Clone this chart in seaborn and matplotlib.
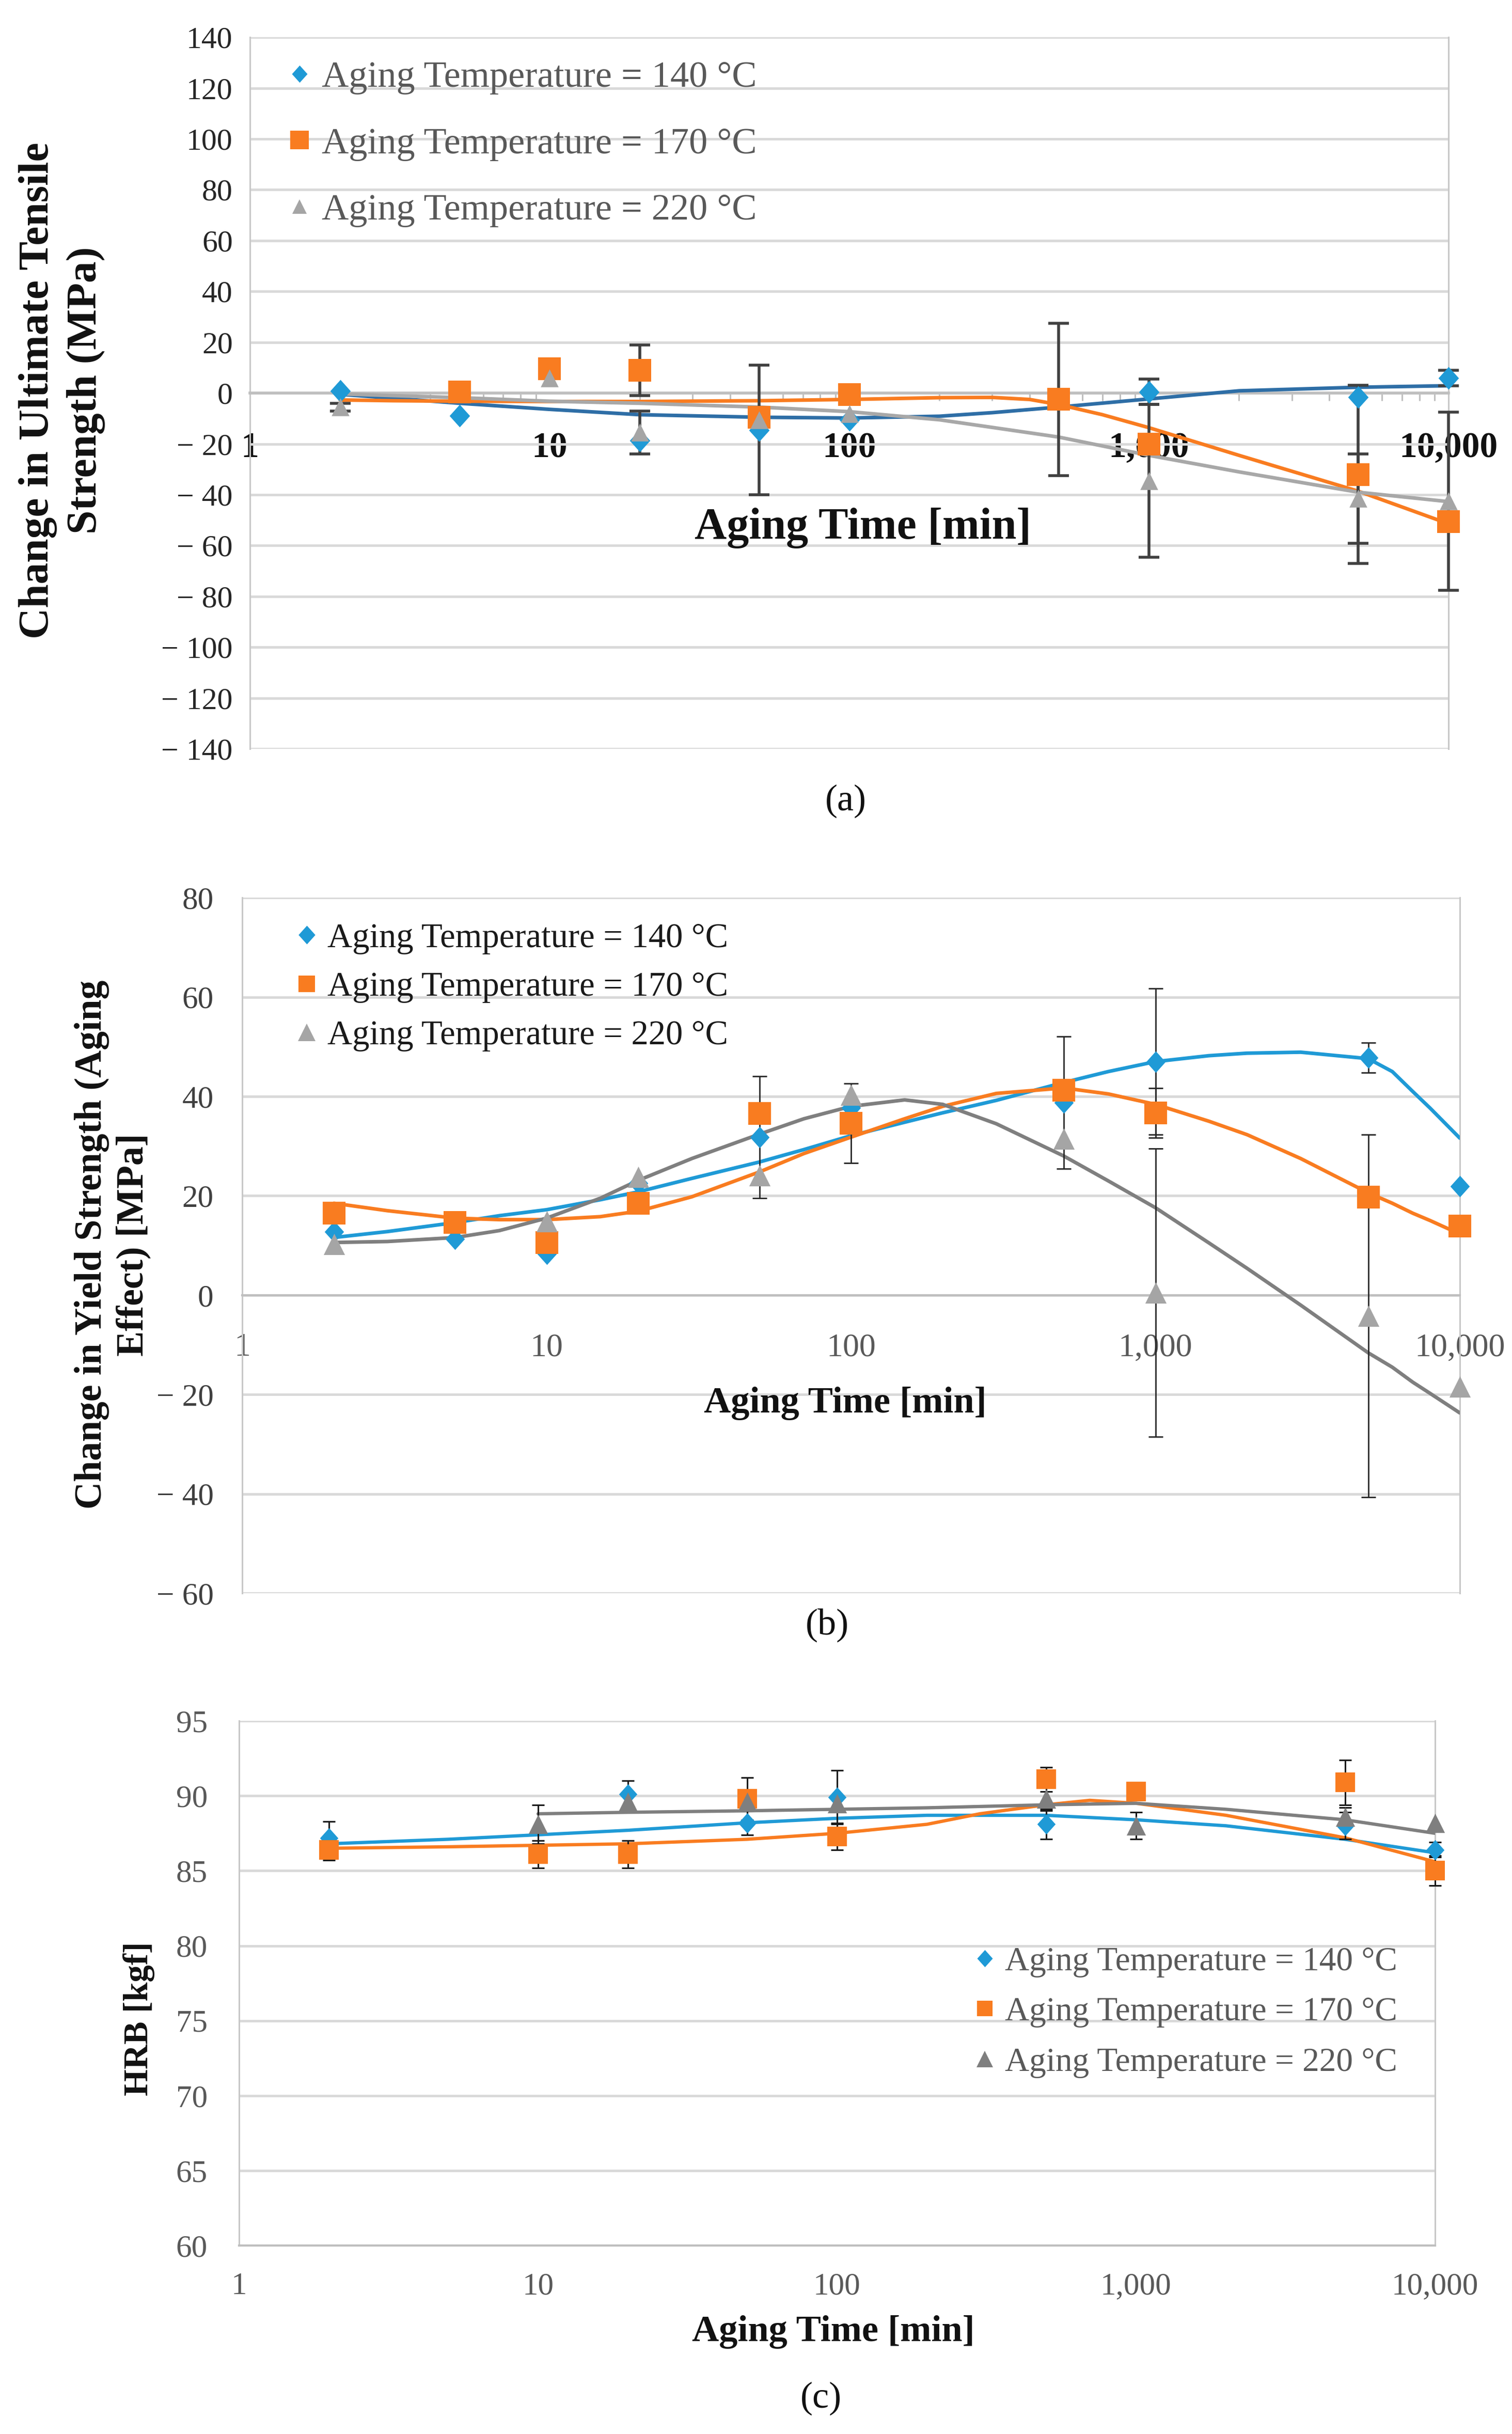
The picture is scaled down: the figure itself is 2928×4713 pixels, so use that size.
import numpy as np
import matplotlib
matplotlib.use("Agg")
import matplotlib.pyplot as plt
from matplotlib.lines import Line2D
from matplotlib.ticker import FixedLocator, FuncFormatter, LogLocator, NullFormatter
import seaborn as sns

nan = np.nan

# ---------------- data ----------------
LABELS = ["Aging Temperature = 140 °C", "Aging Temperature = 170 °C", "Aging Temperature = 220 °C"]

# (a) change in ultimate tensile strength
time_a = [2, 5, 10, 20, 50, 100, 500, 1000, 5000, 10000]
uts_140 = [0.8, -9, nan, -18.6, -14.5, -10.5, nan, 0.5, -1.5, 5.9]
uts_170 = [nan, 0.5, 9.5, 9, -9.5, -0.5, -2.5, -20, -32, -50.5]
uts_220 = [-5.5, nan, 6, -15.5, -10.5, -8, nan, -34.5, -41.5, -42.5]
uts_err_140 = [0, 0, 0, 0, 25.5, 0, 0, 5, 0, 3]
uts_err_170 = [0, 0, 0, 10, 0, 0, 30, 0, 35, 0]
uts_err_220 = [1.5, 0, 0, 8.5, 0, 0, 0, 30, 17.5, 35]

fit_a_x_140 = [2, 3, 5, 10, 20, 50, 100, 200, 300, 500, 1000, 2000, 5000, 10000]
fit_a_y_140 = [-0.5, -2, -4, -6.4, -8.5, -9.5, -9.8, -9.1, -7.7, -5.5, -2.3, 0.9, 2.3, 2.9]
fit_a_x_170 = [2, 3, 5, 10, 20, 50, 100, 200, 300, 400, 500, 700, 1000, 2000, 5000, 10000]
fit_a_y_170 = [-2.7, -3, -3.2, -3.3, -3.3, -3, -2.5, -1.8, -1.7, -2.5, -4.5, -8.5, -13.6, -24.5, -38.6, -51.4]
fit_a_x_220 = [2, 3, 5, 10, 20, 50, 100, 200, 300, 500, 1000, 2000, 5000, 10000]
fit_a_y_220 = [-0.3, -1, -1.8, -3.2, -4, -5.5, -7.3, -10.5, -13.5, -17.3, -24.5, -31, -39, -42.7]

# (b) change in yield strength
time_b = [2, 5, 10, 20, 50, 100, 500, 1000, 5000, 10000]
ys_140 = [12.8, 11.3, 8.3, 22.5, 31.8, 37.7, 38.8, 47, 47.8, 21.9]
ys_170 = [16.5, 14.6, 10.6, 18.5, 36.6, 34.6, 41.2, 36.7, 19.7, 13.9]
ys_220 = [10.3, nan, 14.8, 23.8, 24.1, 40.3, 31.5, 0.5, -4.2, -18.4]
ys_err_140 = [0, 0, 0, 0, 12.3, 0, 13.3, 14.7, 3, 0]
ys_err_170 = [0, 0, 0, 0, 0, 8, 0, 5, 0, 0]
ys_err_220 = [0, 0, 0, 0, 0, 0, 0, 29, 36.5, 0]

fit_b_x = [2, 3, 5, 7, 10, 15, 20, 30, 50, 70, 100, 150, 200, 300, 500, 700, 1000, 1500, 2000, 3000, 5000, 6000, 7000, 8000, 10000]
fit_b_y_140 = [11.6, 12.8, 14.6, 16, 17.2, 19.2, 20.8, 23.5, 26.8, 29.3, 32.1, 34.8, 36.7, 39.2, 42.8, 45, 47, 48.2, 48.7, 48.9, 47.6, 45, 41, 37.6, 31.6]
fit_b_y_170 = [18.5, 17, 15.5, 15.2, 15.2, 15.8, 16.9, 19.8, 24.8, 28.5, 31.8, 35.5, 38, 40.6, 41.7, 40.5, 38.4, 35, 32.3, 27.5, 20.6, 18.5, 16.5, 15, 12.3]
fit_b_y_220 = [10.6, 10.8, 11.6, 13, 15.5, 19.5, 23.1, 27.5, 32.4, 35.5, 38, 39.3, 38.4, 34.5, 28, 23, 17.6, 10.5, 5.4, -2, -11.6, -14.5, -17.5, -19.8, -23.7]

# (c) hardness
time_c = [2, 10, 20, 50, 100, 500, 1000, 5000, 10000]
hrb_140 = [87.2, nan, 90.1, 88.2, 89.9, 88.1, nan, 88.0, 86.4]
hrb_170 = [86.4, 86.1, 86.1, 89.8, 87.3, 91.1, 90.3, 90.9, 85.0]
hrb_220 = [nan, 88.1, 89.6, 89.6, 89.5, 89.8, 88.0, 88.6, 88.2]
hrb_err_140 = [1.1, 0, 0.9, 0.8, 1.8, 1.0, 0, 0.9, 0.5]
hrb_err_170 = [0.7, 0.9, 0.9, 1.4, 0.9, 0.8, 0.6, 1.5, 1.0]
hrb_err_220 = [0, 1.3, 0.5, 0.6, 0.5, 0.8, 0.9, 0.6, 0]

fit_c_x_140 = [2, 5, 10, 20, 50, 100, 200, 500, 1000, 2000, 5000, 10000]
fit_c_y_140 = [86.8, 87.1, 87.4, 87.7, 88.2, 88.5, 88.7, 88.7, 88.4, 88.0, 87.1, 86.2]
fit_c_x_170 = [2, 5, 10, 20, 50, 100, 200, 300, 500, 700, 1000, 2000, 5000, 10000]
fit_c_y_170 = [86.5, 86.6, 86.7, 86.8, 87.1, 87.5, 88.1, 88.8, 89.4, 89.7, 89.5, 88.7, 87.2, 85.6]
fit_c_x_220 = [10, 20, 50, 100, 200, 500, 1000, 2000, 5000, 10000]
fit_c_y_220 = [88.8, 88.9, 89.0, 89.1, 89.2, 89.4, 89.5, 89.1, 88.4, 87.5]

X_TICKS = [1, 10, 100, 1000, 10000]

BLUE = "#1f9ad6"
ORANGE = "#f97c20"
GRAY = "#a5a5a5"
DIAMOND = [(-0.9, 0), (0, 1), (0.9, 0), (0, -1)]
MARKERS = [DIAMOND, "s", "^"]

sns.set_theme(style="white")
plt.rcParams["font.family"] = ["Liberation Serif", "DejaVu Serif"]
plt.rcParams["axes.unicode_minus"] = False


def fmt_y(v, pos):
    return f"\u2212 {abs(v):g}" if v < 0 else f"{v:g}"


def fmt_x(v, pos):
    return f"{int(round(v)):,}"


def draw_panel(ax, time, vals, errs, fits, line_colors, mark_colors, sizes, err_color, err_lw, capsize, line_lw):
    ax.set_xscale("log")
    for (fx, fy), c in zip(fits, line_colors):
        sns.lineplot(x=fx, y=fy, ax=ax, color=c, lw=line_lw, sort=False, estimator=None,
                     legend=False, zorder=3)
    t = np.array(time, float)
    for v, e in zip(vals, errs):
        v = np.array(v, float)
        e = np.array(e, float)
        m = e > 0
        ax.errorbar(t[m], v[m], yerr=e[m], fmt="none", ecolor=err_color, elinewidth=err_lw,
                    capsize=capsize, capthick=err_lw, zorder=4, clip_on=False)
    for v, c, mk, s in zip(vals, mark_colors, MARKERS, sizes):
        sns.scatterplot(x=time, y=v, ax=ax, marker=mk, s=s, color=c, linewidth=0,
                        zorder=5, clip_on=False, legend=False)
    ax.set_xlim(1, 10000)
    ax.xaxis.set_major_locator(FixedLocator(X_TICKS))
    ax.xaxis.set_major_formatter(FuncFormatter(fmt_x))
    ax.xaxis.set_minor_formatter(NullFormatter())
    ax.yaxis.set_major_formatter(FuncFormatter(fmt_y))
    ax.set_xlabel("")
    ax.set_ylabel("")
    ax.grid(axis="y", color="#d9d9d9", lw=3.5, zorder=0)
    ax.grid(axis="x", visible=False)
    ax.set_axisbelow(True)
    ax.spines["top"].set_visible(False)
    for side in ("left", "right"):
        ax.spines[side].set_color("#c8c8c8")
        ax.spines[side].set_linewidth(2.2)


def add_legend(ax, anchor, fontsize, spacing, text_color, msizes, colors):
    handles = [Line2D([], [], marker=mk, color=c, linestyle="none", markersize=ms, markeredgewidth=0)
               for mk, c, ms in zip(MARKERS, colors, msizes)]
    leg = ax.legend(handles, LABELS, loc="upper left", bbox_to_anchor=anchor, frameon=False,
                    handlelength=0.6, handletextpad=0.3, labelspacing=spacing, borderpad=0,
                    borderaxespad=0, prop=dict(size=fontsize))
    for txt in leg.get_texts():
        txt.set_color(text_color)


fig = plt.figure(figsize=(29.28, 47.13), dpi=100)

# ---------------- (a) ----------------
ax_a = fig.add_axes([0.1653, 0.6923, 0.7927, 0.2924])
draw_panel(ax_a, time_a, [uts_140, uts_170, uts_220], [uts_err_140, uts_err_170, uts_err_220],
           [(fit_a_x_140, fit_a_y_140), (fit_a_x_170, fit_a_y_170), (fit_a_x_220, fit_a_y_220)],
           ["#2e6ea6", ORANGE, "#a8a8a8"], [BLUE, ORANGE, GRAY], [1000, 1000, 620],
           "#404040", 4, 14.5, 5)
ax_a.set_ylim(-140, 140)
ax_a.yaxis.set_major_locator(FixedLocator(np.arange(-140, 141, 20)))
ax_a.spines["bottom"].set_position(("data", 0))
ax_a.spines["bottom"].set_color("#bfbfbf")
ax_a.spines["bottom"].set_linewidth(4)
ax_a.xaxis.set_minor_locator(LogLocator(base=10, subs=np.arange(2, 10)))
ax_a.tick_params(axis="x", which="both", direction="out", color="#bfbfbf", width=2.2)
ax_a.tick_params(axis="x", which="major", length=11, pad=43, labelsize=50, labelcolor="#111111")
ax_a.tick_params(axis="x", which="minor", length=11, bottom=True)
ax_a.tick_params(axis="y", length=0, pad=24, labelsize=43, labelcolor="#262626")
for lab in ax_a.get_xticklabels():
    lab.set_fontweight("bold")
add_legend(ax_a, (0.032, 0.967), 52, 0.87, "#595959", [24, 26, 20], [BLUE, ORANGE, GRAY])
fig.text(0.5707, 0.783, "Aging Time [min]", ha="center", va="center", fontsize=62,
         fontweight="bold", color="#111111")
fig.text(0.041, 0.8396, "Change in Ultimate Tensile\nStrength (MPa)", rotation=90, ha="center",
         va="center", fontsize=60, fontweight="bold", linespacing=1.3, color="#111111")
fig.text(0.5594, 0.6709, "(a)", ha="center", va="center", fontsize=52, color="#111111")

# ---------------- (b) ----------------
ax_b = fig.add_axes([0.1602, 0.3454, 0.8053, 0.2858])
draw_panel(ax_b, time_b, [ys_140, ys_170, ys_220], [ys_err_140, ys_err_170, ys_err_220],
           [(fit_b_x, fit_b_y_140), (fit_b_x, fit_b_y_170), (fit_b_x, fit_b_y_220)],
           [BLUE, ORANGE, "#7f7f7f"], [BLUE, ORANGE, GRAY], [900, 960, 880],
           "#262626", 2, 10, 5)
ax_b.set_ylim(-60, 80)
ax_b.yaxis.set_major_locator(FixedLocator(np.arange(-60, 81, 20)))
ax_b.spines["bottom"].set_position(("data", 0))
ax_b.spines["bottom"].set_color("#bfbfbf")
ax_b.spines["bottom"].set_linewidth(3)
ax_b.tick_params(axis="x", which="both", length=0, pad=53, labelsize=46, labelcolor="#595959")
ax_b.tick_params(axis="y", length=0, pad=40, labelsize=44, labelcolor="#404040")
add_legend(ax_b, (0.0445, 0.964), 48, 0.5, "#1a1a1a", [26, 23, 24], [BLUE, ORANGE, GRAY])
fig.text(0.559, 0.4233, "Aging Time [min]", ha="center", va="center", fontsize=52,
         fontweight="bold", color="#111111")
fig.text(0.0745, 0.4886, "Change in Yield Strength (Aging\nEffect) [MPa]", rotation=90,
         ha="center", va="center", fontsize=53, fontweight="bold", linespacing=1.25, color="#111111")
fig.text(0.5471, 0.3323, "(b)", ha="center", va="center", fontsize=52, color="#111111")

# ---------------- (c) ----------------
ax_c = fig.add_axes([0.1581, 0.0774, 0.7910, 0.2156])
draw_panel(ax_c, time_c, [hrb_140, hrb_170, hrb_220], [hrb_err_140, hrb_err_170, hrb_err_220],
           [(fit_c_x_140, fit_c_y_140), (fit_c_x_170, fit_c_y_170), (fit_c_x_220, fit_c_y_220)],
           [BLUE, ORANGE, "#7f7f7f"], [BLUE, ORANGE, "#7f7f7f"], [800, 760, 720],
           "#1a1a1a", 2.2, 8.5, 4.6)
ax_c.set_ylim(60, 95)
ax_c.yaxis.set_major_locator(FixedLocator(np.arange(60, 96, 5)))
ax_c.spines["bottom"].set_color("#bfbfbf")
ax_c.spines["bottom"].set_linewidth(3)
ax_c.tick_params(axis="x", which="both", length=0, pad=37, labelsize=44, labelcolor="#595959")
ax_c.tick_params(axis="y", length=0, pad=44, labelsize=44, labelcolor="#595959")
add_legend(ax_c, (0.615, 0.57), 47, 0.58, "#595959", [24, 21, 23], [BLUE, ORANGE, "#7f7f7f"])
fig.text(0.551, 0.042, "Aging Time [min]", ha="center", va="center", fontsize=52,
         fontweight="bold", color="#111111")
fig.text(0.092, 0.1706, "HRB [kgf]", rotation=90, ha="center", va="center", fontsize=48,
         fontweight="bold", color="#111111")
fig.text(0.543, 0.0146, "(c)", ha="center", va="center", fontsize=52, color="#111111")

fig.savefig("out.png", dpi=100, facecolor="white")
